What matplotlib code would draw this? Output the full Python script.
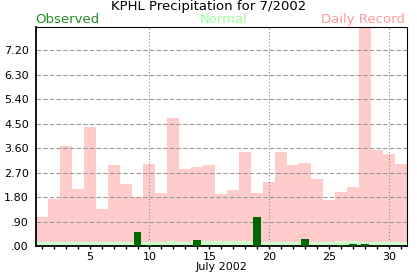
import numpy as np
import matplotlib
matplotlib.use('Agg')
import matplotlib.pyplot as plt
from matplotlib.ticker import FixedLocator, FuncFormatter

# data (inches)
days = np.arange(1, 32)
record = [1.07, 1.73, 3.68, 2.10, 4.38, 1.36, 2.98, 2.28, 1.80, 3.02,
          1.95, 4.71, 2.84, 2.91, 2.98, 1.92, 2.06, 3.46, 1.95, 2.36,
          3.46, 2.98, 3.06, 2.47, 1.69, 1.99, 2.17, 8.07, 3.54, 3.39, 3.02]
normal = [0.14, 0.14, 0.14, 0.14, 0.14, 0.14, 0.14, 0.14, 0.16, 0.14,
          0.14, 0.17, 0.15, 0.17, 0.17, 0.17, 0.17, 0.17, 0.14, 0.14,
          0.14, 0.14, 0.14, 0.14, 0.14, 0.17, 0.17, 0.14, 0.14, 0.14, 0.14]
observed = [0, 0, 0, 0, 0, 0, 0, 0, 0.52, 0.03,
            0, 0, 0, 0.22, 0, 0, 0, 0, 1.07, 0,
            0, 0, 0.26, 0, 0, 0.04, 0.07, 0.07, 0, 0, 0]
y_ticks = [0, 0.9, 1.8, 2.7, 3.6, 4.5, 5.4, 6.3, 7.2]
x_labeled = [5, 10, 15, 20, 25, 30]
x_grid_days = [10, 20, 30]

fig = plt.figure(figsize=(4.17, 2.76), dpi=100)
ax = fig.add_axes([0.0856, 0.1087, 0.8904, 0.7946])

ax.bar(days, record, width=1.0, color='#ffcccc', zorder=1)
ax.bar(days, normal, width=1.0, color='#ccffcc', zorder=2)
ax.bar(days, observed, width=0.65, color='#006600', zorder=3)

ax.set_xlim(0.5, 31.5)
ax.set_ylim(0, 8.07)

# y axis
ax.yaxis.set_major_locator(FixedLocator(y_ticks))
ax.yaxis.set_major_formatter(FuncFormatter(lambda v, p: ('%.2f' % v).lstrip('0') if v < 1 else '%.2f' % v))
ax.tick_params(axis='y', length=0, pad=5, labelsize=8)
ax.set_axisbelow('line')
ax.yaxis.grid(True, color='#999999', linestyle=(0, (4, 2)), linewidth=0.8)

# x axis
ax.xaxis.set_major_locator(FixedLocator(x_labeled))
ax.xaxis.set_minor_locator(FixedLocator(list(days)))
ax.tick_params(axis='x', which='both', length=2.5, width=1, direction='out', pad=2, labelsize=8)
for d in x_grid_days:
    ax.axvline(d, color='#888888', linestyle=(0, (1, 2)), linewidth=0.8, zorder=1.5)
ax.set_xlabel('July 2002', fontsize=8, labelpad=0)

for s in ['top', 'right']:
    ax.spines[s].set_linewidth(0.8)
for s in ['left', 'bottom']:
    ax.spines[s].set_linewidth(1.3)

# title and legend texts
fig.text(0.5, 0.963, 'KPHL Precipitation for 7/2002', ha='center', va='baseline', fontsize=9.5, color='black')
fig.text(0.0856, 0.917, 'Observed', ha='left', va='baseline', fontsize=9.5, color='#228B22')
fig.text(0.537, 0.917, 'Normal', ha='center', va='baseline', fontsize=9.5, color='#99ff99')
fig.text(0.972, 0.917, 'Daily Record', ha='right', va='baseline', fontsize=9.5, color='#ff9999')

fig.savefig('out.png', dpi=100)
